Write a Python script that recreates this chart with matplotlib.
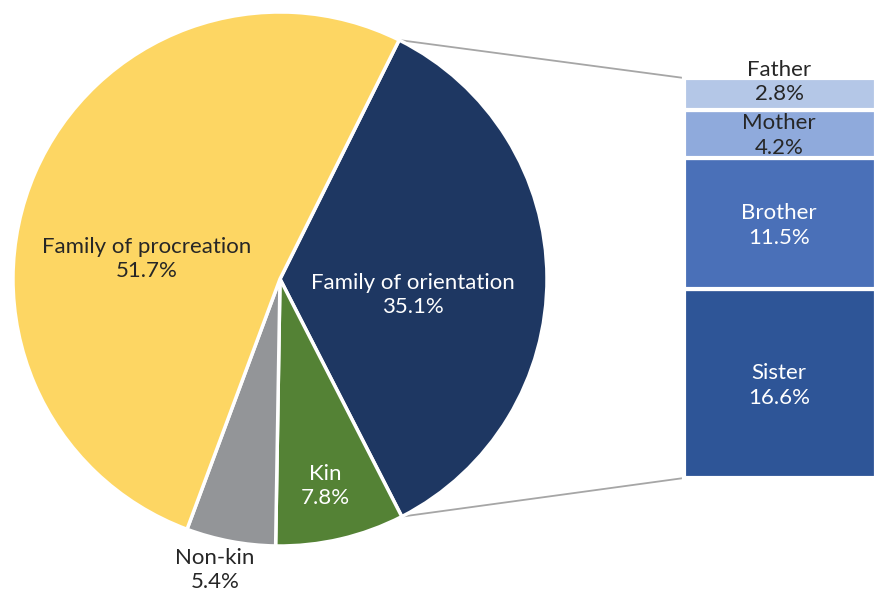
import numpy as np
import matplotlib
matplotlib.use("Agg")
import matplotlib.pyplot as plt

plt.rcParams['font.family'] = ['Lato', 'DejaVu Sans']

pie_labels = ["Family of orientation", "Kin", "Non-kin", "Family of procreation"]
pie_values = [35.1, 7.8, 5.4, 51.7]
pie_colors = ["#1E3762", "#548235", "#939598", "#FDD663"]
pie_text_colors = ["white", "white", "#262626", "#262626"]

bar_labels = ["Sister", "Brother", "Mother", "Father"]
bar_values = [16.6, 11.5, 4.2, 2.8]
bar_colors = ["#2E5597", "#4A70B8", "#8FAADC", "#B4C7E7"]
bar_text_colors = ["white", "white", "#262626", "#262626"]

W, H = 874, 594
fig = plt.figure(figsize=(W / 100, H / 100), dpi=100)
ax = fig.add_axes([0, 0, 1, 1])

cx, cy, r = 280, H - 279, 267
start = 63.5
ax.pie(pie_values, colors=pie_colors, startangle=start, counterclock=False,
       center=(cx, cy), radius=r, frame=True,
       wedgeprops=dict(edgecolor='white', linewidth=2.5))
ax.set_xlim(0, W)
ax.set_ylim(0, H)
ax.set_aspect('equal')
ax.axis('off')

fs = 16
ls = 1.3
label_pos = {
    "Family of orientation": (413, 295),
    "Kin": (325, 486),
    "Non-kin": (215, 570),
    "Family of procreation": (147, 259),
}
for lab, val, tc in zip(pie_labels, pie_values, pie_text_colors):
    x, y = label_pos[lab]
    ax.text(x, H - y, f"{lab}\n{val}%", ha='center', va='center', color=tc,
            fontsize=fs, linespacing=ls)

# stacked bar
bar_x0, bar_x1 = 684, 876
bar_top, bar_bot = H - 78, H - 478
scale = (bar_top - bar_bot) / sum(bar_values)
bottom = bar_bot
centers = []
for lab, val, col in zip(bar_labels, bar_values, bar_colors):
    h = val * scale
    ax.bar((bar_x0 + bar_x1) / 2, h, width=bar_x1 - bar_x0, bottom=bottom, color=col,
           edgecolor='white', linewidth=3)
    centers.append(bottom + h / 2)
    bottom += h

for lab, val, tc, c in zip(bar_labels, bar_values, bar_text_colors, centers):
    yy = c - 2
    if lab == "Father":
        yy = c + 12
    ax.text(779, yy, f"{lab}\n{val}%", ha='center', va='center', color=tc,
            fontsize=fs, linespacing=ls)

# connector lines
a1 = np.deg2rad(start)
a2 = np.deg2rad(start - pie_values[0] / sum(pie_values) * 360)
p1 = (cx + r * np.cos(a1), cy + r * np.sin(a1))
p2 = (cx + r * np.cos(a2), cy + r * np.sin(a2))
ax.plot([p1[0], bar_x0], [p1[1], bar_top], color='#A6A6A6', lw=1.3, zorder=0)
ax.plot([p2[0], bar_x0], [p2[1], bar_bot], color='#A6A6A6', lw=1.3, zorder=0)

fig.savefig("out.png", dpi=100)
